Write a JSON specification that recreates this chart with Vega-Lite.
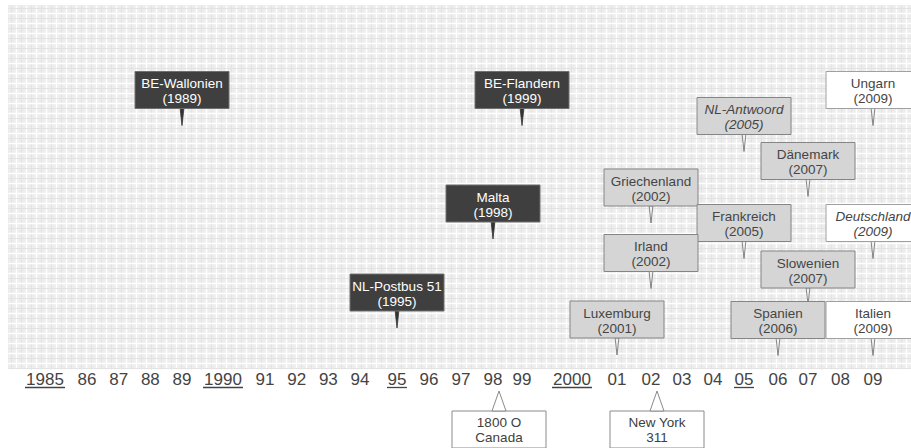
{
  "$schema": "https://vega.github.io/schema/vega-lite/v6.json",
  "width": 903,
  "height": 364,
  "autosize": {"type": "none"},
  "padding": {"left": 8, "top": 5, "right": 0, "bottom": 79},
  "background": "#ffffff",
  "config": {"view": {"fill": "#ededed", "stroke": null}},
  "datasets": {
    "offices": [
      {"name": "BE-Wallonien", "year": 1989, "h": 279},
      {"name": "BE-Flandern", "year": 1999, "h": 279},
      {"name": "Ungarn", "year": 2009, "h": 279},
      {"name": "NL-Antwoord", "year": 2005, "h": 253},
      {"name": "Dänemark", "year": 2007, "h": 208},
      {"name": "Griechenland", "year": 2002, "h": 181.5},
      {"name": "Malta", "year": 1998, "h": 165.5},
      {"name": "Frankreich", "year": 2005, "h": 146},
      {"name": "Deutschland", "year": 2009, "h": 146},
      {"name": "Irland", "year": 2002, "h": 116},
      {"name": "Slowenien", "year": 2007, "h": 99.5},
      {"name": "NL-Postbus 51", "year": 1995, "h": 76.5},
      {"name": "Luxemburg", "year": 2001, "h": 49.5},
      {"name": "Spanien", "year": 2006, "h": 49},
      {"name": "Italien", "year": 2009, "h": 49}
    ],
    "years": [
      {"year": 1985, "label": "1985"}, {"year": 1986, "label": "86"}, {"year": 1987, "label": "87"},
      {"year": 1988, "label": "88"}, {"year": 1989, "label": "89"}, {"year": 1990, "label": "1990"},
      {"year": 1991, "label": "91"}, {"year": 1992, "label": "92"}, {"year": 1993, "label": "93"},
      {"year": 1994, "label": "94"}, {"year": 1995, "label": "95"}, {"year": 1996, "label": "96"},
      {"year": 1997, "label": "97"}, {"year": 1998, "label": "98"}, {"year": 1999, "label": "99"},
      {"year": 2000, "label": "2000"}, {"year": 2001, "label": "01"}, {"year": 2002, "label": "02"},
      {"year": 2003, "label": "03"}, {"year": 2004, "label": "04"}, {"year": 2005, "label": "05"},
      {"year": 2006, "label": "06"}, {"year": 2007, "label": "07"}, {"year": 2008, "label": "08"},
      {"year": 2009, "label": "09"}
    ],
    "callouts": [
      {"year": 1998, "text": "1800 O\nCanada"},
      {"year": 2002, "text": "New York\n311"}
    ]
  },
  "layer": [
    {
      "data": {"values": [{"g": 0}]},
      "mark": {"type": "point", "opacity": 0},
      "encoding": {
        "x": {
          "field": "g", "type": "quantitative",
          "scale": {"domain": [-8, 895], "nice": false, "zero": false},
          "axis": {
            "orient": "top", "grid": true, "labels": false, "ticks": false, "domain": false, "title": null,
            "tickCount": 180,
            "gridColor": {"condition": {"test": "datum.value % 10 === 0", "value": "#ffffff"}, "value": "#e3e3e3"},
            "gridWidth": {"condition": {"test": "datum.value % 10 === 0", "value": 1.5}, "value": 1}
          }
        },
        "y": {
          "field": "g", "type": "quantitative",
          "scale": {"domain": [-8, 356], "nice": false, "zero": false, "reverse": true},
          "axis": {
            "orient": "right", "grid": true, "labels": false, "ticks": false, "domain": false, "title": null,
            "tickCount": 72,
            "gridColor": {"condition": {"test": "datum.value % 10 === 0", "value": "#ffffff"}, "value": "#e3e3e3"},
            "gridWidth": {"condition": {"test": "datum.value % 10 === 0", "value": 1.5}, "value": 1}
          }
        }
      }
    },
    {
      "encoding": {
        "x": {
          "field": "year", "type": "quantitative",
          "scale": {
            "domain": [1985, 1986, 1989, 1990, 1991, 1994, 1995, 1996, 1998, 1999, 2000, 2001, 2002, 2005, 2006, 2007, 2009],
            "range": [37, 79, 174, 215, 257, 352, 389, 421, 485, 514, 564, 609, 643, 736, 770, 800, 865],
            "zero": false, "nice": false
          },
          "axis": null
        }
      },
      "layer": [
        {
          "data": {"name": "offices"},
          "mark": {"type": "point", "filled": true, "shape": "M-0.22,-1L0.22,-1L0,1Z", "size": 289, "yOffset": 27, "strokeWidth": 0.8, "opacity": 1},
          "encoding": {
            "y": {"field": "h", "type": "quantitative", "scale": {"domain": [0, 364], "zero": false, "nice": false}, "axis": null},
            "fill": {"condition": {"test": "datum.year < 2000", "value": "#333333"}, "value": "#f2f2f2"},
            "stroke": {"condition": {"test": "datum.year < 2000", "value": "#333333"}, "value": "#6a6a6a"}
          }
        },
        {
          "data": {"name": "offices"},
          "mark": {"type": "rect", "width": 94, "height": 37, "strokeWidth": 1},
          "encoding": {
            "y": {"field": "h", "type": "quantitative", "axis": null},
            "fill": {"condition": [{"test": "datum.year < 2000", "value": "#3f3f3f"}, {"test": "datum.year >= 2009", "value": "#ffffff"}], "value": "#d5d5d5"},
            "stroke": {"condition": [{"test": "datum.year < 2000", "value": "#707070"}, {"test": "datum.year >= 2009", "value": "#a0a0a0"}], "value": "#858585"}
          }
        },
        {
          "data": {"name": "offices"},
          "transform": [
            {"filter": "indexof(['NL-Antwoord', 'Deutschland'], datum.name) < 0"},
            {"calculate": "datum.name + '\\n(' + datum.year + ')'", "as": "label"}
          ],
          "mark": {"type": "text", "font": "Liberation Sans", "fontSize": 13.5, "lineBreak": "\n", "lineHeight": 15, "align": "center", "baseline": "middle", "dy": -6},
          "encoding": {
            "y": {"field": "h", "type": "quantitative", "axis": null},
            "text": {"field": "label"},
            "color": {"condition": {"test": "datum.year < 2000", "value": "#ffffff"}, "value": "#454545"}
          }
        },
        {
          "data": {"name": "offices"},
          "transform": [
            {"filter": "indexof(['NL-Antwoord', 'Deutschland'], datum.name) >= 0"},
            {"calculate": "datum.name + '\\n(' + datum.year + ')'", "as": "label"}
          ],
          "mark": {"type": "text", "font": "Liberation Sans", "fontSize": 13.5, "fontStyle": "italic", "lineBreak": "\n", "lineHeight": 15, "align": "center", "baseline": "middle", "dy": -6},
          "encoding": {
            "y": {"field": "h", "type": "quantitative", "axis": null},
            "text": {"field": "label"},
            "color": {"value": "#454545"}
          }
        },
        {
          "data": {"name": "years"},
          "mark": {"type": "text", "font": "Liberation Sans", "fontSize": 17, "align": "center", "baseline": "alphabetic", "yOffset": 16, "color": "#444444"},
          "encoding": {
            "y": {"datum": 0, "type": "quantitative"},
            "text": {"field": "label"}
          }
        },
        {
          "data": {"name": "years"},
          "transform": [{"filter": "datum.year % 5 === 0 && length(datum.label) === 4"}],
          "mark": {"type": "rule", "xOffset": -20, "x2Offset": 20, "yOffset": 18.5, "strokeWidth": 1.3, "color": "#444444"},
          "encoding": {
            "x2": {"field": "year"},
            "y": {"datum": 0, "type": "quantitative"}
          }
        },
        {
          "data": {"name": "years"},
          "transform": [{"filter": "datum.year % 5 === 0 && length(datum.label) === 2"}],
          "mark": {"type": "rule", "xOffset": -10, "x2Offset": 10, "yOffset": 18.5, "strokeWidth": 1.3, "color": "#444444"},
          "encoding": {
            "x2": {"field": "year"},
            "y": {"datum": 0, "type": "quantitative"}
          }
        },
        {
          "data": {"name": "callouts"},
          "mark": {"type": "rect", "width": 94, "height": 37, "xOffset": 6, "yOffset": 60.5, "fill": "#ffffff", "stroke": "#8a8a8a", "strokeWidth": 1},
          "encoding": {"y": {"datum": 0, "type": "quantitative"}}
        },
        {
          "data": {"name": "callouts"},
          "mark": {"type": "point", "filled": true, "shape": "M0,-1L-0.7,1L0.7,1Z", "size": 400, "xOffset": 6, "yOffset": 32, "fill": "#ffffff", "stroke": "#8a8a8a", "strokeWidth": 1, "opacity": 1},
          "encoding": {"y": {"datum": 0, "type": "quantitative"}}
        },
        {
          "data": {"name": "callouts"},
          "mark": {"type": "text", "font": "Liberation Sans", "fontSize": 13.5, "lineBreak": "\n", "lineHeight": 15, "align": "center", "baseline": "middle", "xOffset": 6, "yOffset": 54, "color": "#404040"},
          "encoding": {"y": {"datum": 0, "type": "quantitative"}, "text": {"field": "text"}}
        }
      ]
    }
  ],
  "resolve": {"scale": {"x": "independent", "y": "independent"}}
}
